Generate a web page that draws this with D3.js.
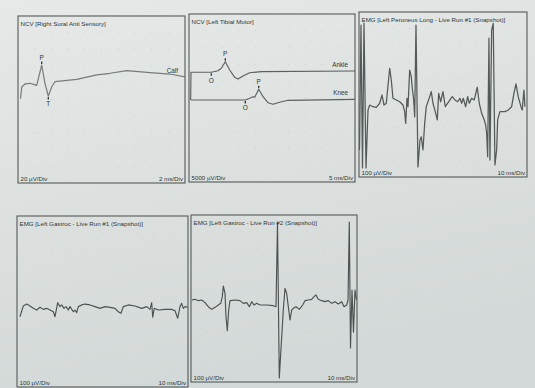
<!DOCTYPE html>
<html><head><meta charset="utf-8">
<script src="https://cdn.jsdelivr.net/npm/d3@7"></script>
<style>html,body{margin:0;padding:0;background:#dde2e1;} svg{display:block;}</style>
</head><body>
<svg id="c" width="535" height="388"></svg>
<script>
// ---------- data ----------
const titles = [
  "NCV [Right Sural Anti Sensory]",
  "NCV [Left Tibial Motor]",
  "EMG [Left Peroneus Long - Live Run #1 (Snapshot)]",
  "EMG [Left Gastroc - Live Run #1 (Snapshot)]",
  "EMG [Left Gastroc - Live Run #2 (Snapshot)]"
];
const uvPerDiv = [20, 5000, 100, 100, 100];
const msPerDiv = [2, 5, 10, 10, 10];
const uvLabels = ["20 µV/Div", "5000 µV/Div", "100 µV/Div", "100 µV/Div", "100 µV/Div"];
const msLabels = ["2 ms/Div", "5 ms/Div", "10 ms/Div", "10 ms/Div", "10 ms/Div"];

// Sural (µV vs ms)
const suralT = [0.3,0.45,0.84,1.44,1.83,2.24,2.84,3.23,3.63,4.04,4.43,7.03,9.43,11.02,13.02,15.81,18.21,20];
const suralV = [1,15,18.6,19.4,18.2,17,41.3,19.4,4.2,15.3,21.3,24.2,29.4,31.4,34.5,32.1,30.5,27];
const suralMarks = [{label:"P", t:2.84, side:"above"}, {label:"T", t:3.63, side:"below"}];

// Tibial motor
const ankleT = [0.5,0.6,6.72,8.73,9.73,10.93,12.26,13.76,14.76,16.27,18.28,21.78,50];
const ankleV = [-600,7650,7650,8120,8840,10800,8330,6160,5650,6550,7530,7830,8040];
const ankleMarks = [{label:"O", t:6.72, side:"below"}, {label:"P", t:10.93, side:"above"}];
const kneeT = [0.6,16.96,18.28,19.28,19.79,21.0,22.3,23.8,25.3,27.3,29.8,50];
const kneeV = [-595,-595,-89,387,208,2590,387,-1400,-1875,-1280,-685,-387];
const kneeMarks = [{label:"O", t:16.96, side:"below"}, {label:"P", t:21.0, side:"above"}];

// Peroneus long EMG
const peronT = [0.3,1.19,2.08,2.98,4.17,5.36,6.37,8.33,10.29,12.32,13.69,14.88,16.24,18.27,19.22,20.23,22.19,24.22,26.18,27.19,27.79,28.56,29.16,30.17,31.12,31.71,32.55,33.15,33.92,35.1,36.3,37.07,38.08,39.09,40.04,42.07,43.02,44.03,45.4,46.59,47.42,48.61,49.98,51.35,54.14,55.51,57.12,58.73,60.1,61.11,62.06,63.49,64.68,65.63,67.06,68.6,70.39,71.58,73.01,74.55,75.39,75.98,76.58,77.35,77.95,78.96,79.91,80.92,81.93,82.53,83.9,86.87,88.83,90.86,92.23,93.42,94.78,96.39,97.16,98.18,98.77];
const peronV = [-336,421,-445,433,-445,-94,-64,-74,-78,-53,-3,-64,-53,159,88,-23,-33,-44,-64,-104,-175,-23,-74,148,108,38,-33,-135,421,-439,-276,-256,-336,-175,-74,-13,17,-53,-104,-154,7,-44,17,-74,-33,-13,-33,-44,-23,-53,-23,-74,-13,-53,-23,-33,44,-53,-114,-154,-185,-235,-377,341,-397,391,431,-427,-336,-154,-104,-104,-94,-74,7,64,-13,-74,-94,27,-74];

// Gastroc run 1
const g1T = [1.75,3.68,5.67,7.6,9.53,11.52,13.45,15.38,17.37,19.3,21.23,22.22,23.8,25.15,26.14,27.49,28.66,30.0,31.0,32.92,33.92,34.91,35.85,37.84,39.77,42.69,45.61,48.54,51.46,54.39,57.31,59.24,60.82,62.17,65.09,69.01,72.92,75.85,77.78,78.77,79.36,80.29,82.63,86.55,90.47,92.4,93.98,95.32,96.32,97.25,98.25,100];
const g1V = [-89,-26,-15,-26,-40,-50,-34,-46,-40,-50,-60,-89,-7,-30,-20,-40,-30,-50,-30,-60,-50,-65,-30,-20,-15,-20,-30,-40,-30,-34,-40,-60,-69,-30,-20,-26,-40,-30,-46,-7,-92,-40,-50,-46,-46,-54,-98,-30,-11,-40,-30,-34];

// Gastroc run 2
const g2T = [0.42,2.41,4.4,6.45,8.43,10.42,12.47,14.46,16.45,17.89,18.86,19.46,20.48,21.08,21.87,22.71,23.49,26.51,29.52,31.5,33.55,35.12,36.57,37.95,39.58,41.57,45.6,49.58,51.2,52.11,53.19,54.64,55.6,56.63,57.65,58.61,59.64,60.66,61.63,63.25,65.24,67.29,68.67,70.66,72.71,74.1,75.3,76.69,78.73,80.72,82.71,84.76,86.75,88.73,90.78,92.17,93.8,94.58,95.36,96.08,96.99,97.89,98.8,99.7];
const g2V = [-9,-5,-13,-9,-25,-49,-65,-53,-39,-29,11,75,31,-109,-193,-69,-13,-9,-13,-29,-25,-49,-19,-39,-29,-39,-39,-43,-49,452,-476,-229,-69,61,31,-49,-129,-69,-59,-49,-65,-39,-13,-9,-5,11,21,-5,-13,-19,-13,-29,-19,-33,-19,-49,-39,-9,458,-296,51,-201,51,-9];

// ---------- layout ----------
const boxes = [
  {x:18, y:16, w:167, h:167},
  {x:189, y:14, w:166, h:168},
  {x:359, y:12, w:168, h:165},
  {x:17, y:216, w:171, h:171},
  {x:191, y:215, w:166, h:167}
];
const traces = [
  [{t:suralT, v:suralV, label:"Calf", marks:suralMarks, color:"#767c7b", w:1.2}],
  [{t:ankleT, v:ankleV, label:"Ankle", marks:ankleMarks, color:"#5b6160", w:1.15},
   {t:kneeT, v:kneeV, label:"Knee", marks:kneeMarks, color:"#5b6160", w:1.15}],
  [{t:peronT, v:peronV, color:"#545a59", w:1.25}],
  [{t:g1T, v:g1V, color:"#4c5251", w:1.15}],
  [{t:g2T, v:g2V, color:"#4c5251", w:1.15}]
];

const svg = d3.select("#c");
const defs = svg.append("defs");
const grad = defs.append("linearGradient").attr("id","bg").attr("x1",0).attr("y1",0).attr("x2",0.3).attr("y2",1);
grad.append("stop").attr("offset","0%").attr("stop-color","#e6e9e8");
grad.append("stop").attr("offset","100%").attr("stop-color","#d3d9d8");
svg.append("rect").attr("width",535).attr("height",388).attr("fill","url(#bg)");

const textColor = "#2f3534";
const font = "'Liberation Sans', Arial, sans-serif";

boxes.forEach((b, i) => {
  const g = svg.append("g");
  const x = d3.scaleLinear().domain([0, 10*msPerDiv[i]]).range([b.x, b.x+b.w]);
  const y = d3.scaleLinear().domain([-5*uvPerDiv[i], 5*uvPerDiv[i]]).range([b.y+b.h, b.y]);

  // faint division dots
  const dots = [];
  for (let a = 1; a < 10; a++) for (let c = -4; c <= 4; c++) dots.push([a*msPerDiv[i], c*uvPerDiv[i]]);
  g.selectAll("circle.d").data(dots).join("circle")
    .attr("cx", d => x(d[0])).attr("cy", d => y(d[1])).attr("r", 0.55)
    .attr("fill", "#c6cccb");

  const cid = "clip"+i;
  defs.append("clipPath").attr("id", cid).append("rect")
    .attr("x", b.x).attr("y", b.y).attr("width", b.w).attr("height", b.h);

  const line = d3.line().x(d => x(d[0])).y(d => y(d[1]));
  traces[i].forEach(tr => {
    const pts = tr.t.map((t, k) => [t, tr.v[k]]);
    g.append("path").attr("d", line(pts)).attr("fill","none")
      .attr("stroke", tr.color).attr("stroke-width", tr.w).attr("stroke-linejoin","round")
      .attr("clip-path", `url(#${cid})`);
    if (tr.label) {
      const last = pts[pts.length-1];
      g.append("text").attr("x", b.x+b.w-7).attr("y", y(last[1])-4)
        .attr("text-anchor","end").attr("font-family",font).attr("font-size",6.3)
        .attr("fill",textColor).text(tr.label);
    }
    (tr.marks || []).forEach(m => {
      let vv = tr.v[0];
      for (let k = 0; k < tr.t.length-1; k++) {
        if (m.t >= tr.t[k] && m.t <= tr.t[k+1]) {
          const f = (m.t - tr.t[k]) / (tr.t[k+1]-tr.t[k] || 1);
          vv = tr.v[k] + f*(tr.v[k+1]-tr.v[k]);
        }
      }
      const px = x(m.t), py = y(vv);
      const dir = m.side === "above" ? -1 : 1;
      g.append("line").attr("x1",px).attr("x2",px)
        .attr("y1", py + dir*1).attr("y2", py + dir*3.5)
        .attr("stroke","#2e3433").attr("stroke-width",1.3);
      g.append("text").attr("x",px).attr("y", dir < 0 ? py-5.5 : py+10.5)
        .attr("text-anchor","middle").attr("font-family",font).attr("font-size",6.5)
        .attr("fill",textColor).text(m.label);
    });
  });

  // frame
  g.append("rect").attr("x",b.x).attr("y",b.y).attr("width",b.w).attr("height",b.h)
    .attr("fill","none").attr("stroke","#5a605f").attr("stroke-width",1.15);

  // texts
  g.append("text").attr("x", b.x+2.5).attr("y", b.y+9.5)
    .attr("font-family",font).attr("font-size",6.2).attr("fill",textColor).text(titles[i]);
  g.append("text").attr("x", b.x+2.5).attr("y", b.y+b.h-2)
    .attr("font-family",font).attr("font-size",6.2).attr("fill",textColor).text(uvLabels[i]);
  g.append("text").attr("x", b.x+b.w-2).attr("y", b.y+b.h-2).attr("text-anchor","end")
    .attr("font-family",font).attr("font-size",6.2).attr("fill",textColor).text(msLabels[i]);
});
</script>
</body></html>
